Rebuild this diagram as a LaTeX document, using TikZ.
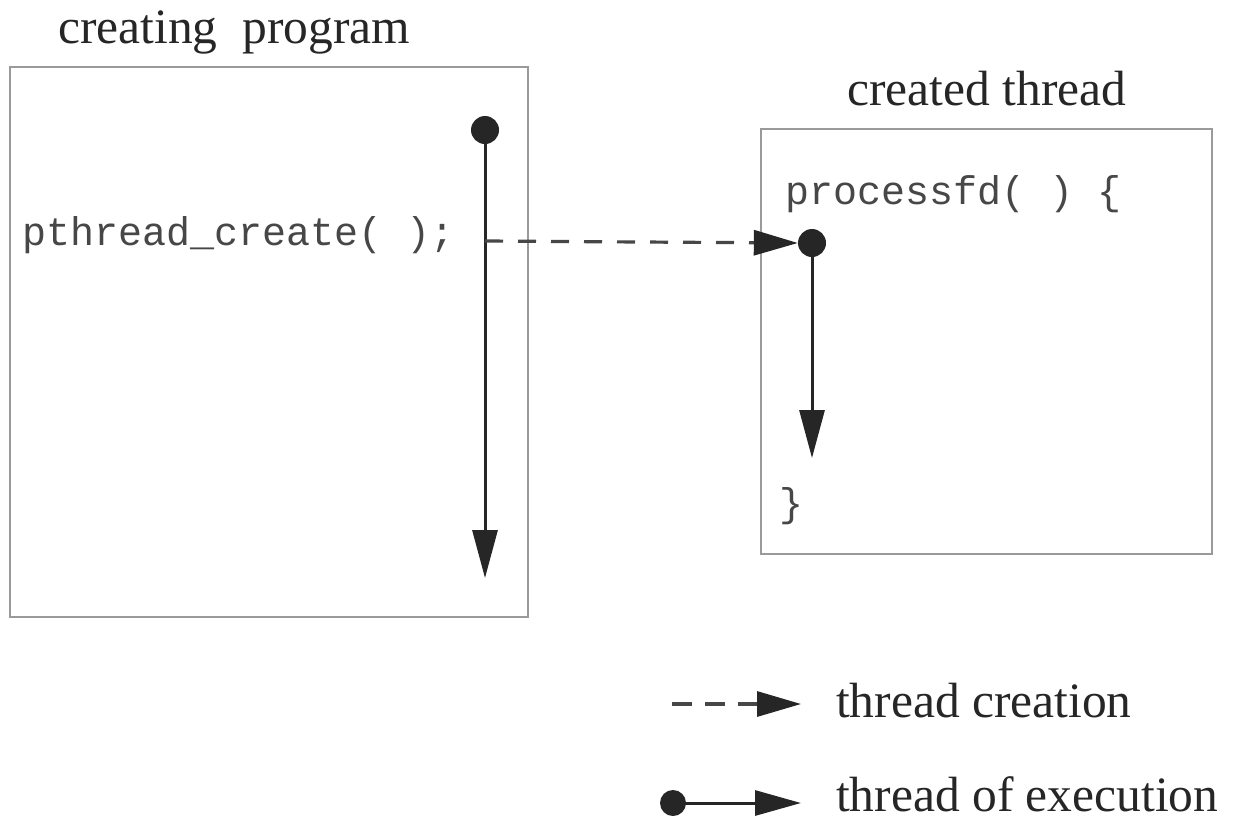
\documentclass[tikz,border=0pt]{standalone}
\usepackage{fontspec}
\setmainfont{Liberation Serif}
\setmonofont{Liberation Mono}
\usetikzlibrary{arrows.meta}
\definecolor{boxgray}{HTML}{9A9A9A}
\definecolor{ink}{HTML}{262626}
\begin{document}
\begin{tikzpicture}[x=1pt,y=-1pt,
  frame/.style={draw=boxgray,line width=2pt},
  exec/.style={draw=ink,line width=3pt,-{Triangle[length=48pt,width=25pt]}},
  create/.style={draw=ink!85,line width=3.2pt,dash pattern=on 18pt off 15pt,-{Triangle[length=44pt,width=25pt,fill=ink,color=ink]}},
  dot/.style={circle,fill=ink,inner sep=0pt,minimum size=28pt},
  title/.style={font=\fontsize{49.5}{55}\selectfont,inner sep=0pt,anchor=base west,text=ink},
  code/.style={font=\ttfamily\fontsize{40}{44}\selectfont,inner sep=0pt,anchor=base west,text=ink!85}]
\useasboundingbox (0,0) rectangle (1235,823);
\fill[white] (0,0) rectangle (1235,823);
% boxes
\draw[frame] (10,67) rectangle (528,617);
\draw[frame] (761,129) rectangle (1212,554);
% titles
\node[title] (t1) at (58,43) {creating\ \ program};
\node[title] (t2) at (847,105) {created thread};
% code
\node[code] (pc) at (22,245) {pthread\_create( );};
\node[code] (pf) at (785,204) {processfd( ) \{};
\node[code] (cb) at (779,516) {\}};
% main thread
\node[dot] (d1) at (485,130) {};
\coordinate (e1) at (485,578);
\draw[exec] (d1.center) -- (e1);
\coordinate (c0) at (485,241);
\node[dot] (d2) at (812,243) {};
\draw[create] (c0) -- (d2.west);
\coordinate (e2) at (812,458);
\draw[exec] (d2.center) -- (e2);
% legend
\coordinate (l1a) at (672,704);
\coordinate (l1b) at (801,704);
\draw[create,dash pattern=on 20pt off 13pt] (l1a) -- (l1b);
\node[title] (lt1) at (836,717) {thread creation};
\node[dot,minimum size=26pt] (ld) at (673,803) {};
\coordinate (l2b) at (801,803);
\draw[exec,-{Triangle[length=46pt,width=25pt]}] (ld.center) -- (l2b);
\node[title] (lt2) at (836,811) {thread of execution};
\end{tikzpicture}
\end{document}
